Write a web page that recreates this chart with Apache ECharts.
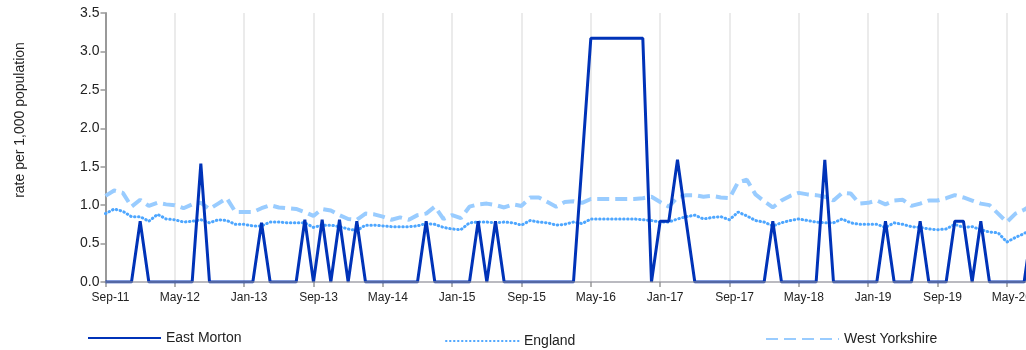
<!DOCTYPE html>
<html>
<head>
<meta charset="utf-8">
<script src="https://cdn.jsdelivr.net/npm/echarts@6/dist/echarts.min.js"></script>
<style>
html,body{margin:0;padding:0;background:#fff;overflow:hidden;width:1026px;height:350px;}
#chart{width:1040px;height:350px;}
</style>
</head>
<body>
<div id="chart"></div>
<script>
const months = [
"Sep-11","Oct-11","Nov-11","Dec-11","Jan-12","Feb-12","Mar-12","Apr-12","May-12","Jun-12","Jul-12","Aug-12",
"Sep-12","Oct-12","Nov-12","Dec-12","Jan-13","Feb-13","Mar-13","Apr-13","May-13","Jun-13","Jul-13","Aug-13",
"Sep-13","Oct-13","Nov-13","Dec-13","Jan-14","Feb-14","Mar-14","Apr-14","May-14","Jun-14","Jul-14","Aug-14",
"Sep-14","Oct-14","Nov-14","Dec-14","Jan-15","Feb-15","Mar-15","Apr-15","May-15","Jun-15","Jul-15","Aug-15",
"Sep-15","Oct-15","Nov-15","Dec-15","Jan-16","Feb-16","Mar-16","Apr-16","May-16","Jun-16","Jul-16","Aug-16",
"Sep-16","Oct-16","Nov-16","Dec-16","Jan-17","Feb-17","Mar-17","Apr-17","May-17","Jun-17","Jul-17","Aug-17",
"Sep-17","Oct-17","Nov-17","Dec-17","Jan-18","Feb-18","Mar-18","Apr-18","May-18","Jun-18","Jul-18","Aug-18",
"Sep-18","Oct-18","Nov-18","Dec-18","Jan-19","Feb-19","Mar-19","Apr-19","May-19","Jun-19","Jul-19","Aug-19",
"Sep-19","Oct-19","Nov-19","Dec-19","Jan-20","Feb-20","Mar-20","Apr-20","May-20","Jun-20","Jul-20","Aug-20"
];
const eastMorton = [
0,0,0,0,0.79,0,0,0,0,0,0,1.54,
0,0,0,0,0,0,0.77,0,0,0,0,0.81,
0,0.81,0,0.81,0,0.79,0,0,0,0,0,0,
0,0.79,0,0,0,0,0,0.79,0,0.79,0,0,
0,0,0,0,0,0,0,1.58,3.17,3.17,3.17,3.17,
3.17,3.17,3.17,0,0.79,0.79,1.59,0.79,0,0,0,0,
0,0,0,0,0,0.79,0,0,0,0,0,1.59,
0,0,0,0,0,0,0.79,0,0,0,0.79,0,
0,0,0.79,0.79,0,0.79,0,0,0,0,0,0.79
];
const england = [
0.89,0.95,0.92,0.85,0.85,0.79,0.88,0.82,0.81,0.78,0.79,0.81,
0.77,0.81,0.80,0.75,0.75,0.73,0.73,0.78,0.78,0.77,0.77,0.77,
0.71,0.74,0.74,0.72,0.69,0.67,0.74,0.74,0.73,0.72,0.72,0.72,
0.73,0.76,0.75,0.71,0.69,0.68,0.77,0.78,0.78,0.77,0.78,0.77,
0.74,0.80,0.78,0.77,0.74,0.75,0.78,0.76,0.82,0.82,0.82,0.82,
0.82,0.82,0.81,0.80,0.78,0.78,0.82,0.85,0.87,0.82,0.84,0.85,
0.81,0.91,0.86,0.80,0.78,0.73,0.77,0.80,0.82,0.80,0.78,0.77,
0.77,0.82,0.77,0.75,0.75,0.75,0.71,0.77,0.75,0.72,0.71,0.69,
0.68,0.69,0.75,0.71,0.72,0.68,0.65,0.64,0.52,0.58,0.63,0.70
];
const westYorkshire = [
1.12,1.19,1.16,0.98,1.07,0.99,1.03,1.01,1.00,0.96,1.01,1.03,
0.95,1.02,1.09,0.91,0.91,0.91,0.96,1.00,0.97,0.96,0.95,0.91,
0.86,0.95,0.93,0.87,0.82,0.81,0.89,0.88,0.85,0.81,0.84,0.81,
0.87,0.89,0.98,0.82,0.87,0.83,0.98,1.01,1.02,1.00,0.97,1.01,
0.99,1.10,1.10,1.04,0.98,1.04,1.05,1.03,1.08,1.08,1.08,1.08,
1.08,1.08,1.09,1.11,1.04,0.98,1.10,1.13,1.13,1.11,1.12,1.10,
1.09,1.30,1.33,1.14,1.05,0.97,1.06,1.12,1.16,1.14,1.13,1.11,
1.06,1.16,1.15,1.02,1.03,1.06,1.01,1.06,1.07,0.99,1.02,1.06,
1.06,1.09,1.13,1.10,1.06,1.02,1.00,0.89,0.78,0.89,0.94,1.01
];
const yTicks = [0, 0.5, 1.0, 1.5, 2.0, 2.5, 3.0, 3.5];
const yTitle = 'rate per 1,000 population';

const chart = echarts.init(document.getElementById('chart'), null, {renderer: 'canvas'});
const font = 'Liberation Sans, Arial, sans-serif';
const legendText = {fontFamily: font, fontSize: 14, color: '#222'};
const legendBase = {padding: 0, itemWidth: 73, itemHeight: 14, itemGap: 7,
  itemStyle: {opacity: 0}, textStyle: legendText};
chart.setOption({
  animation: false,
  textStyle: {fontFamily: font},
  grid: {left: 105.5, right: 7.2, top: 13, bottom: 68, containLabel: false},
  graphic: [{
    type: 'text', x: 20, y: 120, rotation: Math.PI / 2,
    style: {text: yTitle, fill: '#222', font: '14px Liberation Sans, Arial, sans-serif',
      textAlign: 'center', textVerticalAlign: 'middle'}
  }],
  legend: [
    Object.assign({}, legendBase, {data: ['East Morton'], left: 87, top: 331}),
    Object.assign({}, legendBase, {data: ['England'], left: 445, top: 334}),
    Object.assign({}, legendBase, {data: ['West Yorkshire'], left: 765, top: 332})
  ],
  xAxis: [{
    type: 'category',
    data: months,
    boundaryGap: false,
    axisLine: {show: false},
    axisTick: {interval: 7, length: 5, lineStyle: {color: '#999', width: 1.5}},
    axisLabel: {interval: 7, margin: 10, fontSize: 12, color: '#222', fontFamily: font,
      padding: [0, 0, 0, 10]},
    splitLine: {show: true, interval: 7, lineStyle: {color: '#ebebeb', width: 2}}
  }, {
    type: 'category',
    data: months,
    position: 'bottom',
    boundaryGap: false,
    z: 10,
    axisLine: {show: true, onZero: false, lineStyle: {color: 'rgba(140,140,150,0.6)', width: 2}},
    axisTick: {show: false},
    axisLabel: {show: false},
    splitLine: {show: false}
  }],
  yAxis: {
    type: 'value',
    min: yTicks[0],
    max: yTicks[yTicks.length - 1],
    interval: 0.5,
    axisLine: {show: true, lineStyle: {color: '#999', width: 2}},
    axisTick: {show: true, length: 5, lineStyle: {color: '#999', width: 1.5}},
    axisLabel: {fontSize: 14, color: '#222', margin: 6, fontFamily: font,
      formatter: v => v.toFixed(1)},
    splitLine: {show: false}
  },
  series: [
    {name: 'West Yorkshire', type: 'line', data: westYorkshire, symbol: 'none', z: 2,
     itemStyle: {color: '#99ccff'},
     lineStyle: {color: '#99ccff', width: 4, type: [12, 6]}},
    {name: 'England', type: 'line', data: england, symbol: 'none', z: 3,
     itemStyle: {color: '#4da6ff'},
     lineStyle: {color: '#4da6ff', width: 3, type: [0.5, 3.5], cap: 'round'}},
    {name: 'East Morton', type: 'line', data: eastMorton, symbol: 'none', z: 4,
     itemStyle: {color: '#0033b8'},
     lineStyle: {color: '#0033b8', width: 3}}
  ]
});
</script>
</body>
</html>
